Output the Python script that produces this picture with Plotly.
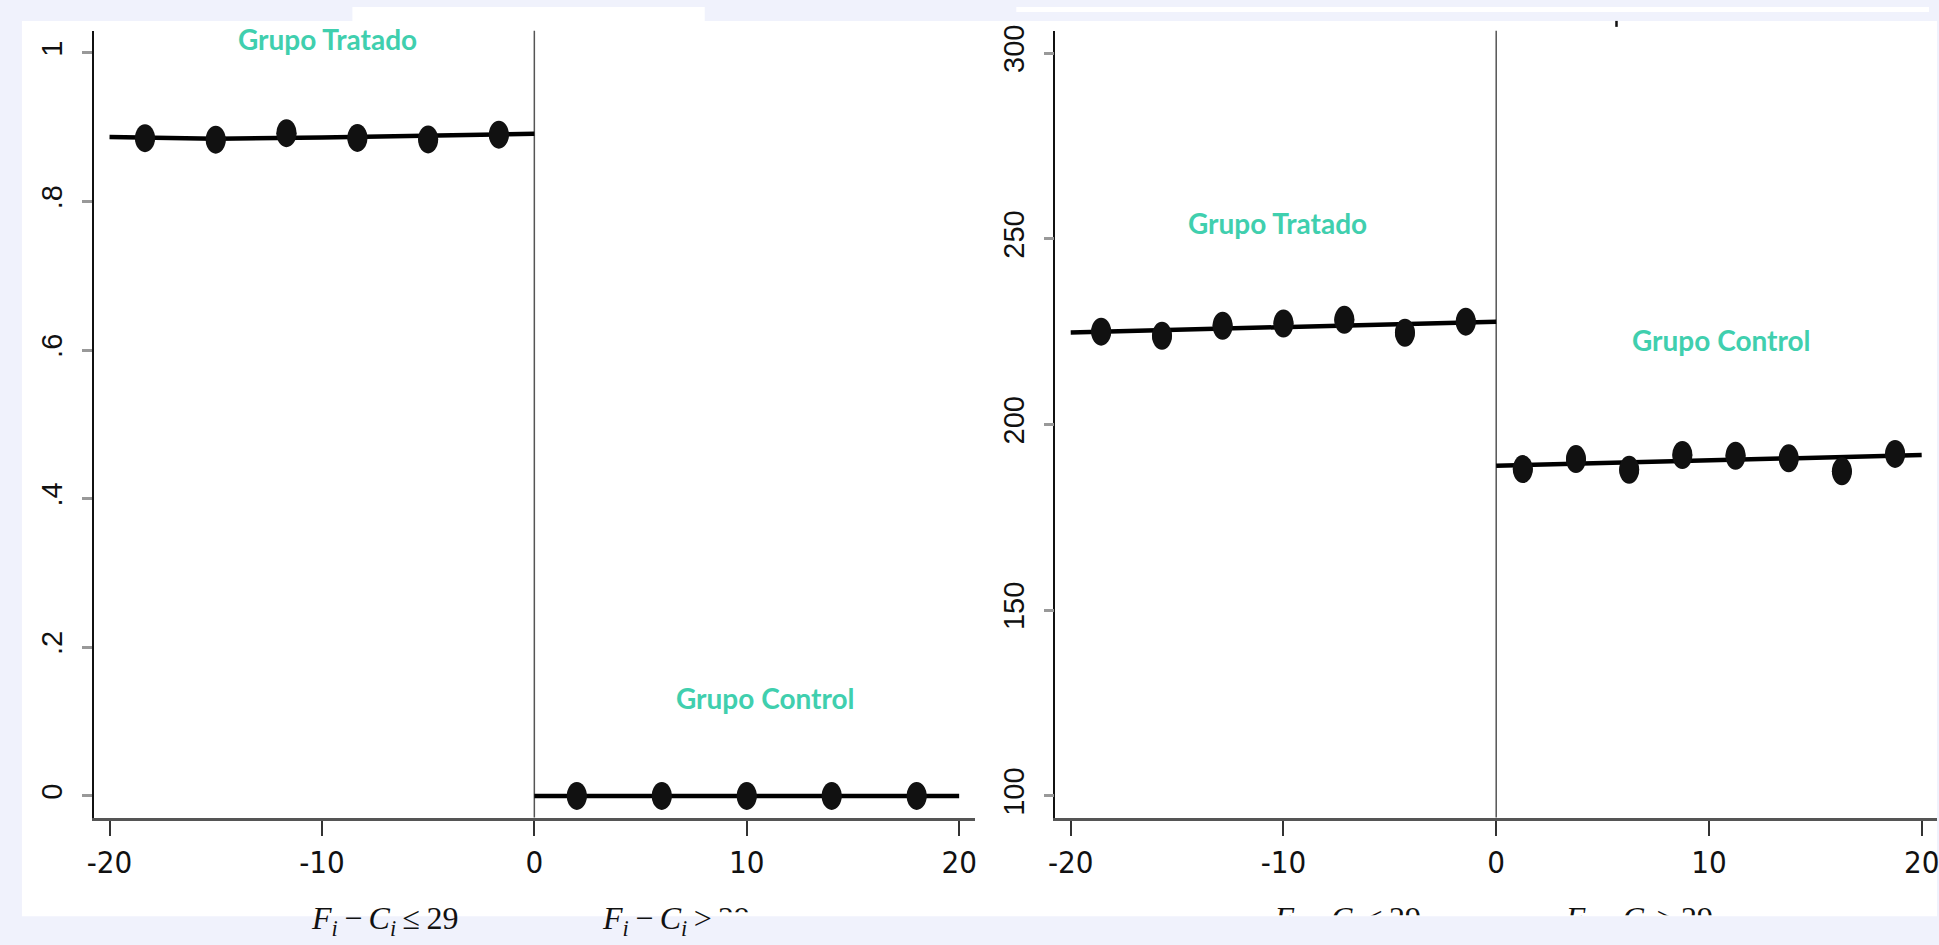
import plotly.graph_objects as go

W, H = 1939, 945

# ---------------- data ----------------
x_ticks = [-20, -10, 0, 10, 20]
x_tick_labels = ["-20", "-10", "0", "10", "20"]

left_y_ticks = [0, 0.2, 0.4, 0.6, 0.8, 1.0]
left_y_tick_labels = ["0", ".2", ".4", ".6", ".8", "1"]
right_y_ticks = [100, 150, 200, 250, 300]
right_y_tick_labels = ["100", "150", "200", "250", "300"]

# left panel (share)
left_treated_x = [-18.33, -15.0, -11.67, -8.33, -5.0, -1.67]
left_treated_y = [0.8854, 0.8833, 0.8920, 0.8857, 0.8837, 0.8900]
left_control_x = [2, 6, 10, 14, 18]
left_control_y = [0, 0, 0, 0, 0]
left_fit_treated_x = [-20, -15, -10, -5, 0]
left_fit_treated_y = [0.8868, 0.8846, 0.8862, 0.8880, 0.8912]
left_fit_control_x = [0, 20]
left_fit_control_y = [0.0, 0.0]

# right panel (level)
right_treated_x = [-18.57, -15.71, -12.86, -10.0, -7.14, -4.29, -1.43]
right_treated_y = [225.0, 223.9, 226.6, 227.2, 228.2, 224.7, 227.7]
right_control_x = [1.25, 3.75, 6.25, 8.75, 11.25, 13.75, 16.25, 18.75]
right_control_y = [188.0, 190.7, 187.8, 191.8, 191.6, 190.9, 187.4, 192.1]
right_fit_treated_x = [-20, 0]
right_fit_treated_y = [224.8, 227.7]
right_fit_control_x = [0, 20]
right_fit_control_y = [188.9, 191.8]

group_labels = ["Grupo Tratado", "Grupo Control"]
TS = "\u2009"
bottom_labels = [
    "<i>F<sub>i</sub></i>" + TS + "\u2212" + TS + "<i>C<sub>i</sub></i>" + TS + "\u2264" + TS + "29",
    "<i>F<sub>i</sub></i>" + TS + "\u2212" + TS + "<i>C<sub>i</sub></i>" + TS + ">",
    TS + "29",
    "<i>F<sub>i</sub></i>" + TS + "\u2212" + TS + "<i>C<sub>i</sub></i>" + TS + ">" + TS + "29",
]

# ---------------- style ----------------
BG = "#F0F2FC"
TEAL = "#40CFAE"
DOT = "#111111"
TICKFONT_X = dict(family="DejaVu Sans Condensed, Liberation Sans Narrow, Liberation Sans",
                  size=31, color="#111")
TICKFONT_Y = dict(family="Liberation Sans, Arial", size=29, color="#111")
MATHFONT = dict(family="Liberation Serif, DejaVu Serif", size=32, color="#111")


def fx(p):
    return p / W


def fy(p):
    return 1 - p / H


fig = go.Figure()


def add_panel(xa, ya, tx, ty, cx, cy, ftx, fty, fcx, fcy):
    for xs, ys in ((ftx, fty), (fcx, fcy)):
        fig.add_trace(go.Scatter(x=xs, y=ys, mode="lines", xaxis=xa, yaxis=ya,
                                 line=dict(color="#000", width=4.5), showlegend=False,
                                 hoverinfo="skip"))
    for xs, ys in ((tx, ty), (cx, cy)):
        fig.add_trace(go.Scatter(x=xs, y=ys, mode="markers", xaxis=xa, yaxis=ya,
                                 marker=dict(color=DOT, size=20, line=dict(width=0)),
                                 showlegend=False))
        for xv, yv in zip(xs, ys):
            fig.add_shape(type="circle", xref=xa, yref=ya,
                          xsizemode="pixel", ysizemode="pixel",
                          xanchor=xv, yanchor=yv, x0=-10, x1=10, y0=-14, y1=14,
                          fillcolor=DOT, line=dict(width=0), layer="above")


add_panel("x", "y", left_treated_x, left_treated_y, left_control_x, left_control_y,
          left_fit_treated_x, left_fit_treated_y, left_fit_control_x, left_fit_control_y)
add_panel("x2", "y2", right_treated_x, right_treated_y, right_control_x, right_control_y,
          right_fit_treated_x, right_fit_treated_y, right_fit_control_x, right_fit_control_y)

# bottom math labels (pixel coordinate overlay axes)
BASE_Y = 921
SPLIT_X = 708
fig.add_trace(go.Scatter(x=[380], y=[BASE_Y], mode="text", text=[bottom_labels[0]],
                         textposition="middle center", textfont=MATHFONT,
                         xaxis="x3", yaxis="y3", showlegend=False, hoverinfo="skip"))
fig.add_trace(go.Scatter(x=[SPLIT_X], y=[BASE_Y], mode="text", text=[bottom_labels[1]],
                         textposition="middle left", textfont=MATHFONT,
                         xaxis="x3", yaxis="y3", showlegend=False, hoverinfo="skip"))
fig.add_trace(go.Scatter(x=[SPLIT_X], y=[BASE_Y], mode="text", text=[bottom_labels[2]],
                         textposition="middle right", textfont=MATHFONT,
                         xaxis="x4", yaxis="y4", showlegend=False, hoverinfo="skip",
                         cliponaxis=True))
fig.add_trace(go.Scatter(x=[1347, 1640], y=[BASE_Y, BASE_Y], mode="text",
                         text=[bottom_labels[0], bottom_labels[3]],
                         textposition="middle center", textfont=MATHFONT,
                         xaxis="x5", yaxis="y5", showlegend=False, hoverinfo="skip",
                         cliponaxis=True))

# shapes: white panels, vertical zero lines
shapes_bg = [
    (15, 15, W, 916),
    (347, 1, 701, 15),
    (1014, 1, 1931, 6),
]
for x0, y0, x1, y1 in shapes_bg:
    fig.add_shape(type="rect", xref="paper", yref="paper", x0=fx(x0), x1=fx(x1),
                  y0=fy(y1), y1=fy(y0), fillcolor="white", line=dict(width=0), layer="below")
fig.add_shape(type="line", xref="paper", yref="paper", x0=fx(1617), x1=fx(1617),
              y0=fy(21), y1=fy(15), line=dict(color="#111", width=2.5), layer="below")
for xa in ("x", "x2"):
    yref = "y domain" if xa == "x" else "y2 domain"
    fig.add_shape(type="line", xref=xa, yref=yref, x0=0, x1=0, y0=0, y1=1,
                  line=dict(color="#555", width=1.5), layer="below")

# group annotations
ann = [
    ("x", "y", -9.72, 1.019, group_labels[0]),
    ("x", "y", 10.86, 0.132, group_labels[1]),
    ("x2", "y2", -10.26, 254.2, group_labels[0]),
    ("x2", "y2", 10.6, 222.8, group_labels[1]),
]
for xr, yr, xv, yv, t in ann:
    fig.add_annotation(xref=xr, yref=yr, x=xv, y=yv, text="<b>%s</b>" % t, showarrow=False,
                       font=dict(family="Lato, Open Sans", size=28, color=TEAL),
                       xanchor="center", yanchor="middle")

plot_top, plot_bot = 25, 816.7
ydom = [fy(plot_bot), fy(plot_top)]

xaxis_common = dict(tickmode="array", tickvals=x_ticks, ticktext=x_tick_labels,
                    showgrid=False, zeroline=False, showline=True, linecolor="#555", linewidth=3,
                    ticks="outside", ticklen=15, tickwidth=1.5, tickcolor="#333",
                    tickfont=TICKFONT_X, ticklabelstandoff=0, ticklabeloverflow="allow",
                    fixedrange=True)
yaxis_common = dict(tickmode="array", showgrid=False, zeroline=False, showline=True,
                    linecolor="#111", linewidth=1.8, ticks="outside", ticklen=10,
                    tickwidth=2.5, tickcolor="#999", tickfont=TICKFONT_Y, tickangle=-90,
                    ticklabelstandoff=8, fixedrange=True)

hidden = dict(visible=False, showgrid=False, zeroline=False, fixedrange=True)

fig.update_layout(
    width=W, height=H, margin=dict(l=0, r=0, t=0, b=0),
    paper_bgcolor=BG, plot_bgcolor="rgba(0,0,0,0)",
    showlegend=False,
    xaxis=dict(domain=[fx(87), fx(972.6)], range=[-20.75, 20.75], anchor="y", **xaxis_common),
    yaxis=dict(domain=ydom, range=[-0.029, 1.0298], anchor="x",
               tickvals=left_y_ticks, ticktext=left_y_tick_labels, **yaxis_common),
    xaxis2=dict(domain=[fx(1053.3), 1.0], range=[-20.72, 20.72], anchor="y2", **xaxis_common),
    yaxis2=dict(domain=ydom, range=[94.2, 306.0], anchor="x2",
                tickvals=right_y_ticks, ticktext=right_y_tick_labels, **yaxis_common),
    xaxis3=dict(domain=[0, 1], range=[0, W], anchor="y3", **hidden),
    yaxis3=dict(domain=[0, 1], range=[H, 0], anchor="x3", **hidden),
    xaxis4=dict(domain=[0, 1], range=[0, W], anchor="y4", **hidden),
    yaxis4=dict(domain=[fy(912), 1], range=[912, 0], anchor="x4", **hidden),
    xaxis5=dict(domain=[0, 1], range=[0, W], anchor="y5", **hidden),
    yaxis5=dict(domain=[fy(915), 1], range=[915, 0], anchor="x5", **hidden),
)

fig.write_html("out.html", config={"displayModeBar": False},
               post_script="document.body.style.margin='0';document.body.style.overflow='hidden';")
